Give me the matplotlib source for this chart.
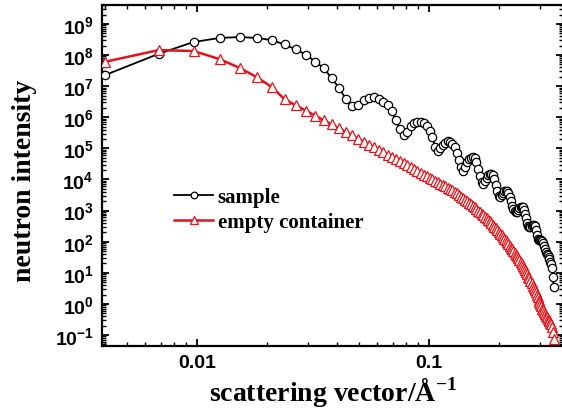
import matplotlib
matplotlib.use("Agg")
import matplotlib.pyplot as plt
import numpy as np
from matplotlib.ticker import LogLocator, FixedLocator, FixedFormatter, NullFormatter, LogFormatterSciNotation

q = [0.00400, 0.00684, 0.00968, 0.01252, 0.01536, 0.01820, 0.02104, 0.02388, 0.02672, 0.02956,
     0.03240, 0.03524, 0.03808, 0.04092, 0.04376, 0.04660, 0.04944, 0.05228, 0.05512, 0.05796,
     0.06080, 0.06364, 0.06648, 0.06932, 0.07216, 0.07500, 0.07784, 0.08068, 0.08352, 0.08636,
     0.08920, 0.09204, 0.09488, 0.09772, 0.10056, 0.10340, 0.10624, 0.10908, 0.11192, 0.11476,
     0.11760, 0.12044, 0.12328, 0.12612, 0.12896, 0.13180, 0.13464, 0.13748, 0.14032, 0.14316,
     0.14600, 0.14884, 0.15168, 0.15452, 0.15736, 0.16020, 0.16304, 0.16588, 0.16872, 0.17156,
     0.17440, 0.17724, 0.18008, 0.18292, 0.18576, 0.18860, 0.19144, 0.19428, 0.19712, 0.19996,
     0.20280, 0.20564, 0.20848, 0.21132, 0.21416, 0.21700, 0.21984, 0.22268, 0.22552, 0.22836,
     0.23120, 0.23404, 0.23688, 0.23972, 0.24256, 0.24540, 0.24824, 0.25108, 0.25392, 0.25676,
     0.25960, 0.26244, 0.26528, 0.26812, 0.27096, 0.27380, 0.27664, 0.27948, 0.28232, 0.28516,
     0.28800, 0.29084, 0.29368, 0.29652, 0.29936, 0.30220, 0.30504, 0.30788, 0.31072, 0.31356,
     0.31640, 0.31924, 0.32208, 0.32492, 0.32776, 0.33060, 0.33344, 0.33628, 0.33912, 0.34196,
     0.34480]

# log10 of neutron intensity, sample
sample_log10I = [7.35, 8.04, 8.42, 8.55, 8.58, 8.55, 8.48, 8.34, 8.18, 8.01,
                 7.79, 7.57, 7.26, 6.95, 6.60, 6.35, 6.38, 6.55, 6.63, 6.66,
                 6.60, 6.50, 6.40, 6.20, 5.90, 5.62, 5.42, 5.52, 5.72, 5.83,
                 5.86, 5.86, 5.82, 5.73, 5.57, 5.36, 5.05, 4.90, 5.00, 5.10,
                 5.18, 5.23, 5.22, 5.15, 5.03, 4.85, 4.62, 4.40, 4.27, 4.40,
                 4.55, 4.65, 4.70, 4.72, 4.68, 4.55, 4.35, 4.12, 3.92, 3.86,
                 3.95, 4.06, 4.14, 4.18, 4.18, 4.14, 4.00, 3.82, 3.63, 3.48,
                 3.44, 3.50, 3.57, 3.62, 3.64, 3.63, 3.58, 3.45, 3.30, 3.16,
                 3.05, 2.98, 2.95, 2.97, 3.03, 3.08, 3.11, 3.12, 3.10, 3.02,
                 2.90, 2.75, 2.60, 2.50, 2.46, 2.48, 2.52, 2.55, 2.55, 2.50,
                 2.38, 2.22, 2.10, 2.05, 2.04, 2.05, 2.05, 2.02, 1.96, 1.87,
                 1.76, 1.68, 1.62, 1.56, 1.50, 1.43, 1.36, 1.28, 1.15, 0.86,
                 0.54]

# log10 of neutron intensity, empty container
empty_log10I = [7.78, 8.16, 8.13, 7.87, 7.58, 7.28, 6.97, 6.58, 6.38, 6.21,
                6.05, 5.90, 5.77, 5.64, 5.53, 5.42, 5.31, 5.22, 5.12, 5.04,
                4.95, 4.88, 4.80, 4.73, 4.66, 4.59, 4.53, 4.46, 4.40, 4.34,
                4.28, 4.22, 4.16, 4.11, 4.06, 4.01, 3.96, 3.92, 3.87, 3.83,
                3.79, 3.74, 3.69, 3.65, 3.60, 3.55, 3.50, 3.45, 3.40, 3.35,
                3.30, 3.25, 3.20, 3.15, 3.10, 3.05, 3.00, 2.95, 2.90, 2.85,
                2.80, 2.75, 2.70, 2.65, 2.59, 2.54, 2.48, 2.43, 2.38, 2.32,
                2.26, 2.21, 2.15, 2.09, 2.04, 1.98, 1.92, 1.87, 1.81, 1.75,
                1.70, 1.64, 1.58, 1.53, 1.46, 1.40, 1.34, 1.28, 1.21, 1.15,
                1.08, 1.01, 0.95, 0.88, 0.82, 0.74, 0.67, 0.59, 0.52, 0.45,
                0.37, 0.30, 0.22, 0.14, 0.07, -0.01, -0.08, -0.15, -0.21, -0.27,
                -0.33, -0.39, -0.43, -0.47, -0.52, -0.56, -0.60, -0.66, -0.74, -0.90,
                -1.13]

series_labels = ["sample", "empty container"]
x_tick_values = [0.01, 0.1]
x_tick_labels = ["0.01", "0.1"]

sans = "Liberation Sans"
serif = "Liberation Serif"
red = "#e0141a"

fig = plt.figure(figsize=(5.62, 4.14), dpi=100)
W, H = 562.0, 414.0
ax = fig.add_axes([102 / W, 1 - 347 / H, (563 - 102) / W, (347 - 6) / H])

qa = np.array(q)
ax.plot(qa, 10 ** np.array(sample_log10I), color="black", lw=1.3, marker="o",
        ms=6.0, mfc="white", mec="black", mew=0.9, label=series_labels[0], zorder=3)
ax.plot(qa, 10 ** np.array(empty_log10I), color=red, lw=1.8, marker="^",
        ms=6.5, mfc="white", mec=red, mew=0.9, label=series_labels[1], zorder=4)

ax.set_xscale("log")
ax.set_yscale("log")
ax.set_xlim(0.00390, 0.3781)
ax.set_ylim(10 ** -1.354, 10 ** 9.61)

ax.xaxis.set_major_locator(FixedLocator(x_tick_values))
ax.xaxis.set_major_formatter(FixedFormatter(x_tick_labels))
ax.xaxis.set_minor_locator(LogLocator(base=10, subs=np.arange(2, 10), numticks=20))
ax.xaxis.set_minor_formatter(NullFormatter())
ax.yaxis.set_major_locator(LogLocator(base=10, numticks=20))
ax.yaxis.set_major_formatter(LogFormatterSciNotation())
ax.yaxis.set_minor_locator(LogLocator(base=10, subs=np.arange(2, 10), numticks=30))
ax.yaxis.set_minor_formatter(NullFormatter())

ax.tick_params(which="both", direction="in", top=True, right=True)
ax.tick_params(which="major", length=5, width=1.3, pad=6)
ax.tick_params(which="minor", length=3, width=1.0)
for lab in ax.get_xticklabels() + ax.get_yticklabels():
    lab.set_fontfamily(sans)
    lab.set_fontweight("bold")
    lab.set_fontsize(14)
for s in ax.spines.values():
    s.set_linewidth(1.6)

ax.set_xlabel(r"scattering vector/Å$^{\mathdefault{-1}}$", fontfamily=serif,
              fontweight="bold", fontsize=20, labelpad=2)
ax.set_ylabel("neutron intensity", fontfamily=serif, fontweight="bold",
              fontsize=20)
ax.yaxis.set_label_coords((37 - 102) / 461.0, (347 - 181) / 341.0)

leg = ax.legend(loc="center left", bbox_to_anchor=(0.115, 0.40), frameon=False,
                prop={"family": serif, "weight": "bold", "size": 15},
                handlelength=1.9, handletextpad=0.2, labelspacing=0.25,
                markerscale=0.8)

fig.savefig("out.png", dpi=100)
